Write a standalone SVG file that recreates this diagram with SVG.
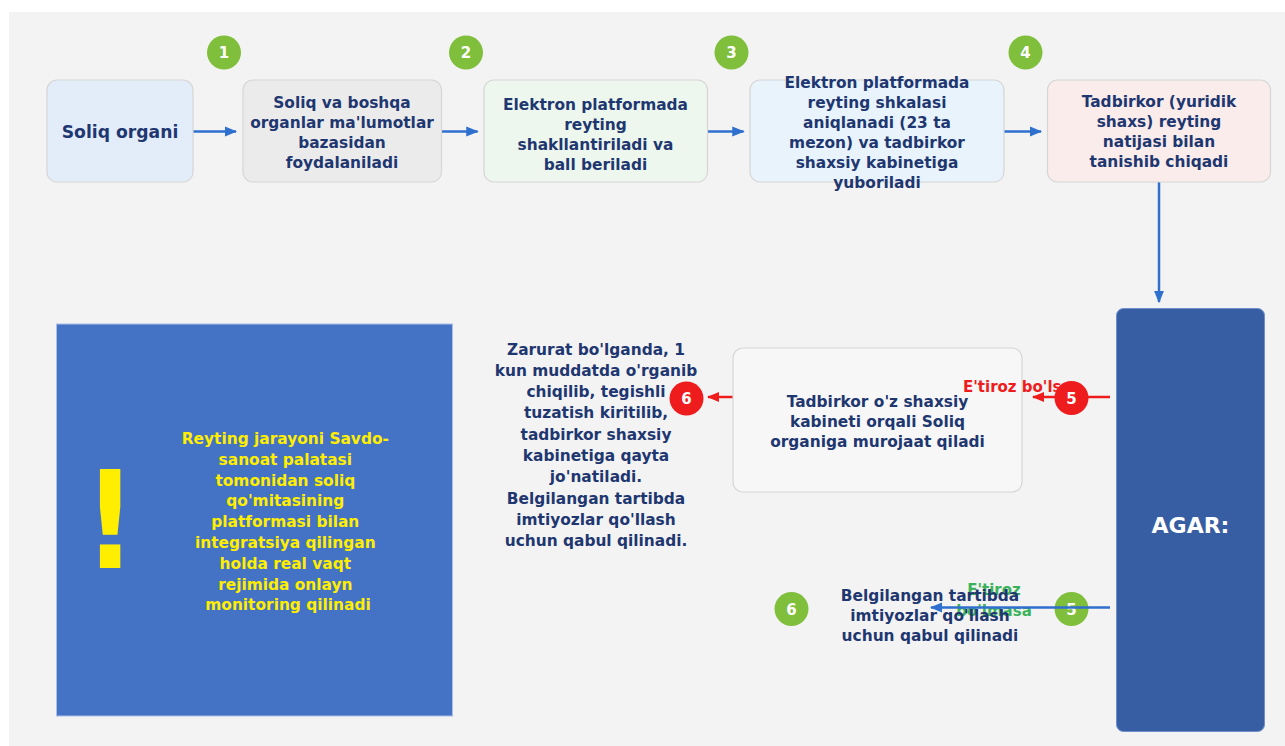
<svg xmlns="http://www.w3.org/2000/svg" width="1285" height="746" viewBox="0 0 1285 746">
<style>
  .t{font-family:"DejaVu Sans","Liberation Sans",sans-serif;font-weight:bold;font-size:15.4px;fill:#1f3770;text-anchor:middle}
  .box{stroke:#d6d6d6;stroke-width:1.2}
  .bn{font-family:"DejaVu Sans","Liberation Sans",sans-serif;font-weight:bold;font-size:15px;fill:#ffffff;text-anchor:middle}
  .blue{stroke:#2f6fce;stroke-width:2.5;fill:none}
  .red{stroke:#ee1c1c;stroke-width:2.5;fill:none}
</style>
<defs>
  <marker id="ab" viewBox="0 0 10 10" refX="9" refY="5" markerWidth="5" markerHeight="5" orient="auto" markerUnits="strokeWidth">
    <path d="M0,1 L10,5 L0,9 z" fill="#2f6fce"/>
  </marker>
  <marker id="ar" viewBox="0 0 10 10" refX="9" refY="5" markerWidth="5" markerHeight="5" orient="auto" markerUnits="strokeWidth">
    <path d="M0,1 L10,5 L0,9 z" fill="#ee1c1c"/>
  </marker>
</defs>
<rect x="0" y="0" width="1285" height="746" fill="#ffffff"/>
<rect x="9" y="12" width="1276" height="734" fill="#f3f3f3"/>

<g id="note">
  <rect x="56.5" y="324" width="396" height="392" fill="#4472c4" stroke="#a9bfe6" stroke-width="1"/>
  <text x="110" y="568" font-family="DejaVu Sans, sans-serif" font-weight="bold" font-size="136" fill="#ffee00" text-anchor="middle" transform="translate(110 0) scale(0.85 1) translate(-110 0)">!</text>
  <text class="t" style="fill:#ffee00" x="288">
    <tspan x="288" y="444">Reyting jarayoni Savdo-</tspan>
    <tspan x="288" y="464.8">sanoat palatasi</tspan>
    <tspan x="288" y="485.6">tomonidan soliq</tspan>
    <tspan x="288" y="506.4">qo'mitasining</tspan>
    <tspan x="288" y="527.2">platformasi bilan</tspan>
    <tspan x="288" y="548">integratsiya qilingan</tspan>
    <tspan x="288" y="568.8">holda real vaqt</tspan>
    <tspan x="288" y="589.6">rejimida onlayn</tspan>
    <tspan x="288" y="610.4">monitoring qilinadi</tspan>
  </text>
</g>

<g id="connectors">
  <line class="blue" x1="193" y1="131.5" x2="236" y2="131.5" marker-end="url(#ab)"/>
  <line class="blue" x1="442" y1="131.5" x2="477.5" y2="131.5" marker-end="url(#ab)"/>
  <line class="blue" x1="708" y1="131.5" x2="743.5" y2="131.5" marker-end="url(#ab)"/>
  <line class="blue" x1="1004" y1="131.5" x2="1041" y2="131.5" marker-end="url(#ab)"/>
  <line class="blue" x1="1159" y1="182" x2="1159" y2="302" marker-end="url(#ab)"/>
  <line class="red" x1="1110" y1="397" x2="1033" y2="397" marker-end="url(#ar)"/>
  <line class="red" x1="733" y1="397" x2="708" y2="397" marker-end="url(#ar)"/>
</g>

<g id="badges">
  <circle cx="224" cy="52.5" r="17" fill="#7fbf3b"/><text class="bn" x="224" y="58">1</text>
  <circle cx="466" cy="52.5" r="17" fill="#7fbf3b"/><text class="bn" x="466" y="58">2</text>
  <circle cx="731.5" cy="52.5" r="17" fill="#7fbf3b"/><text class="bn" x="731.5" y="58">3</text>
  <circle cx="1025.5" cy="52.5" r="17" fill="#7fbf3b"/><text class="bn" x="1025.5" y="58">4</text>
</g>

<g id="n1">
  <rect class="box" x="47" y="80" width="146" height="102" rx="10" fill="#e3edfa"/>
  <text class="t" style="font-size:17.2px" x="120" y="138">Soliq organi</text>
</g>
<g id="n2">
  <rect class="box" x="243" y="80" width="198.5" height="102" rx="10" fill="#ebebeb"/>
  <text class="t"><tspan x="342" y="107.5">Soliq va boshqa</tspan><tspan x="342" y="127.5">organlar ma'lumotlar</tspan><tspan x="342" y="147.5">bazasidan</tspan><tspan x="342" y="167.5">foydalaniladi</tspan></text>
</g>
<g id="n3">
  <rect class="box" x="484" y="80" width="223.5" height="102" rx="10" fill="#eef7ee"/>
  <text class="t"><tspan x="595.5" y="110">Elektron platformada</tspan><tspan x="595.5" y="130">reyting</tspan><tspan x="595.5" y="150">shakllantiriladi va</tspan><tspan x="595.5" y="170">ball beriladi</tspan></text>
</g>
<g id="n4">
  <rect class="box" x="750" y="80" width="254" height="102" rx="10" fill="#e8f3fb"/>
  <text class="t"><tspan x="877" y="87.5">Elektron platformada</tspan><tspan x="877" y="107.5">reyting shkalasi</tspan><tspan x="877" y="127.5">aniqlanadi (23 ta</tspan><tspan x="877" y="147.5">mezon) va tadbirkor</tspan><tspan x="877" y="167.5">shaxsiy kabinetiga</tspan><tspan x="877" y="187.5">yuboriladi</tspan></text>
</g>
<g id="n5">
  <rect class="box" x="1047.5" y="80" width="223" height="102" rx="10" fill="#f9ecea"/>
  <text class="t"><tspan x="1159" y="107">Tadbirkor (yuridik</tspan><tspan x="1159" y="127">shaxs) reyting</tspan><tspan x="1159" y="147">natijasi bilan</tspan><tspan x="1159" y="167">tanishib chiqadi</tspan></text>
</g>

<g id="agar">
  <rect x="1116.5" y="308.5" width="148" height="423" rx="7" fill="#375ea3" stroke="#6f8fcc" stroke-width="1"/>
  <text class="t" style="fill:#ffffff;font-size:22px" x="1190.5" y="533">AGAR:</text>
</g>

<g id="n6">
  <rect class="box" x="733" y="348" width="289" height="144" rx="10" fill="#f7f7f7"/>
  <text class="t"><tspan x="877.5" y="407">Tadbirkor o'z shaxsiy</tspan><tspan x="877.5" y="427">kabineti orqali Soliq</tspan><tspan x="877.5" y="447">organiga murojaat qiladi</tspan></text>
</g>

<g id="branch-yes">
  <text class="t" style="fill:#ee1c1c;text-anchor:start;font-size:15px" x="963" y="392">E'tiroz bo'lsa</text>
  <circle cx="1071.5" cy="398" r="17" fill="#ee1c1c"/><text class="bn" x="1071.5" y="403.5">5</text>
  <circle cx="686.5" cy="398.5" r="17" fill="#ee1c1c"/><text class="bn" x="686.5" y="404">6</text>
  <text class="t"><tspan x="596" y="354.5">Zarurat bo'lganda, 1</tspan><tspan x="596" y="375.8">kun muddatda o'rganib</tspan><tspan x="596" y="397.1">chiqilib, tegishli</tspan><tspan x="596" y="418.4">tuzatish kiritilib,</tspan><tspan x="596" y="439.7">tadbirkor shaxsiy</tspan><tspan x="596" y="461">kabinetiga qayta</tspan><tspan x="596" y="482.3">jo'natiladi.</tspan><tspan x="596" y="503.6">Belgilangan tartibda</tspan><tspan x="596" y="524.9">imtiyozlar qo'llash</tspan><tspan x="596" y="546.2">uchun qabul qilinadi.</tspan></text>
</g>

<g id="branch-no">
  <circle cx="1071.5" cy="609" r="17" fill="#7fbf3b"/><text class="bn" x="1071.5" y="614.5">5</text>
  <circle cx="791.5" cy="609" r="17" fill="#7fbf3b"/><text class="bn" x="791.5" y="614.5">6</text>
  <text class="t" style="fill:#3cb35a;font-size:15px"><tspan x="994" y="595">E'tiroz</tspan><tspan x="994" y="616">bo'lmasa</tspan></text>
  <text class="t"><tspan x="930" y="600.5">Belgilangan tartibda</tspan><tspan x="930" y="620.5">imtiyozlar qo'llash</tspan><tspan x="930" y="640.5">uchun qabul qilinadi</tspan></text>
  <line class="blue" x1="1110" y1="607.5" x2="931" y2="607.5" marker-end="url(#ab)"/>
</g>
</svg>
